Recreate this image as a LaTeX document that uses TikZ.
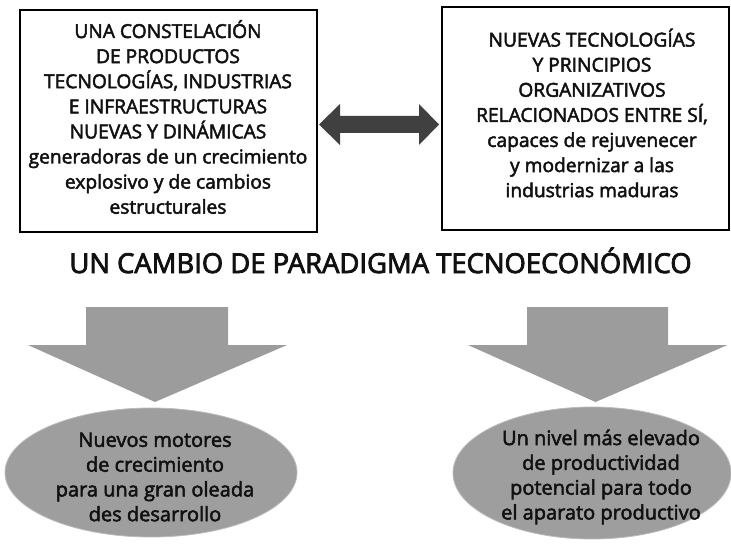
\documentclass[tikz,border=0pt]{standalone}
\usepackage{fontspec}
\setmainfont{Open Sans}
\newfontfamily\bodyfont{Open Sans}[RawFeature={embolden=2.5}]
\newfontfamily\titlefont{Open Sans}[RawFeature={embolden=3}]
\usetikzlibrary{calc}
\definecolor{arrgray}{HTML}{9C9C9C}
\definecolor{ellgray}{HTML}{9E9E9E}
\definecolor{darkarr}{HTML}{404040}
\definecolor{txt}{HTML}{111111}
\tikzset{
  framebox/.style={draw=black, line width=2.4pt, fill=white},
  boxtext/.style={align=center, inner sep=0pt, text=txt, font=\bodyfont\fontsize{19.2}{25.1}\selectfont},
  elltext/.style={align=center, inner sep=0pt, text=txt, font=\bodyfont\fontsize{20}{24.8}\selectfont},
  titletext/.style={inner sep=0pt, text=txt, font=\titlefont\fontsize{27.4}{30}\selectfont},
  bigarrow/.style={fill=arrgray, draw=none},
  ellshape/.style={fill=ellgray, draw=ellgray!70!white, line width=0.8pt},
}
\begin{document}
\begin{tikzpicture}[x=1pt, y=-1pt]
\useasboundingbox (0,0) rectangle (731,548);
\fill[white] (0,0) rectangle (731,548);
% boxes
\draw[framebox] (20,10) rectangle (317,232);
\coordinate (LBr) at (317,124.5);
\draw[framebox] (442,7) rectangle (729,230);
\coordinate (RBl) at (442,124.5);
\node[boxtext] (lt) at (168,117) {UNA CONSTELACIÓN\\DE PRODUCTOS\\TECNOLOGÍAS, INDUSTRIAS\\E INFRAESTRUCTURAS\\NUEVAS Y DINÁMICAS\\generadoras de un crecimiento\\explosivo y de cambios\\estructurales};
\node[boxtext] (rt) at (592,113) {NUEVAS TECNOLOGÍAS\\Y PRINCIPIOS\\ORGANIZATIVOS\\RELACIONADOS ENTRE SÍ,\\capaces de rejuvenecer\\y modernizar a las\\industrias maduras};
% double arrow
\fill[darkarr] ($(LBr)+(2,0)$) -- ++(21,-20.5) -- ++(0,12) -- ($(RBl)+(-23,-8.5)$) -- ++(0,-12) -- ($(RBl)+(-3,0)$) -- ++(-20,20.5) -- ++(0,-12) -- ($(LBr)+(23,8.5)$) -- ++(0,12) -- cycle;
% title
\node[titletext, anchor=base] (title) at (380.5,273) {UN CAMBIO DE PARADIGMA TECNOECONÓMICO};
% down arrows
\coordinate (la) at (157,307);
\coordinate (ra) at (597.5,307);
\fill[bigarrow] ($(la)+(-71,0)$) -- ++(0,38) -- ++(-58,0) -- ($(la)+(-2,95)$) -- ($(la)+(130,38)$) -- ++(-59,0) -- ++(0,-38) -- cycle;
\fill[bigarrow] ($(ra)+(-70.5,0)$) -- ++(0,38) -- ++(-59,0) -- ($(ra)+(-2,95)$) -- ($(ra)+(130,38)$) -- ++(-59.5,0) -- ++(0,-38) -- cycle;
% ellipses
\draw[ellshape] (151,472.5) ellipse [x radius=146, y radius=64.5];
\draw[ellshape] (592,473) ellipse [x radius=139, y radius=66];
\node[elltext] (le) at (155,477) {Nuevos motores\\de crecimiento\\para una gran oleada\\des desarrollo};
\node[elltext] (re) at (601,477) {Un nivel más elevado\\de productividad\\potencial para todo\\el aparato productivo};
\end{tikzpicture}
\end{document}
